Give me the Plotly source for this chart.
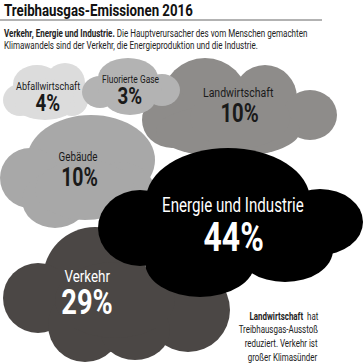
import plotly.graph_objects as go

# ---- data ----
categories = ["Abfallwirtschaft", "Fluorierte Gase", "Landwirtschaft", "Gebäude",
              "Energie und Industrie", "Verkehr"]
values = [4, 3, 10, 10, 44, 29]
title_text = "Treibhausgas-Emissionen 2016"
subtitle_bold = "Verkehr, Energie und Industrie."
subtitle_rest = [" Die Hauptverursacher des vom Menschen gemachten",
                 "Klimawandels sind der Verkehr, die Energieproduktion und die Industrie."]
note_lines = ["<b>Landwirtschaft</b>  hat", "Treibhausgas-Ausstoß",
              "reduziert. Verkehr ist", "großer Klimasünder"]

# ---- layout / style (pixel space) ----
W = H = 363
FONT = "Roboto, Liberation Sans, sans-serif"
CONDENSE = 0.78

# ellipses: (cx, cy, rx, ry)
clouds = {
    "Landwirtschaft": dict(color="#8e8c8a",
                           blobs=[(205, 100, 43, 42), (265, 98, 32, 33), (310, 115, 27, 25),
                                  (172, 120, 30, 28), (228, 131, 72, 26), (240, 118, 50, 30)],
                           label=(238, 92, 13.5), pct=(239, 113, 26), tcolor="#1a1a1a"),
    "Abfallwirtschaft": dict(color="#dcdcdc",
                             blobs=[(37, 84, 24, 19), (65, 83, 20, 20), (20, 100, 17, 16),
                                    (72, 100, 16, 16), (45, 105, 30, 15), (46, 95, 28, 16)],
                             label=(48, 86, 11.6), pct=(48, 103, 24), tcolor="#1a1a1a"),
    "Fluorierte Gase": dict(color="#b3b3b3",
                            blobs=[(128, 78, 30, 20), (100, 92, 18, 16), (162, 90, 18, 16),
                                   (130, 100, 25, 15), (130, 90, 32, 16)],
                            label=(130, 79, 10.8), pct=(130, 96, 24), tcolor="#1a1a1a"),
    "Gebäude": dict(color="#a8a8a8",
                    blobs=[(91, 160, 64, 45), (30, 178, 30, 30), (55, 200, 33, 28),
                           (120, 192, 35, 30), (85, 190, 50, 30)],
                    label=(78, 156, 12.6), pct=(79, 177, 25), tcolor="#1a1a1a"),
    "Verkehr": dict(color="#4b4745",
                    blobs=[(95, 279, 52, 52), (38, 298, 35, 35), (85, 325, 37, 37),
                           (188, 310, 42, 42), (135, 330, 35, 30), (115, 300, 60, 38)],
                    label=(87, 276, 17.2), pct=(87, 302, 35), tcolor="#ffffff"),
    "Energie und Industrie": dict(color="#000000",
                                  blobs=[(228, 200, 82, 52), (140, 228, 42, 38), (320, 222, 43, 33),
                                         (200, 262, 55, 35), (285, 250, 48, 32), (230, 232, 85, 42)],
                                  label=(233, 205, 19.4), pct=(233, 237, 41), tcolor="#ffffff"),
}
draw_order = ["Landwirtschaft", "Abfallwirtschaft", "Fluorierte Gase", "Gebäude",
              "Verkehr", "Energie und Industrie"]

fig = go.Figure()
fig.add_trace(go.Scatter(x=[0, W], y=[0, H], mode="markers", marker=dict(opacity=0),
                         hoverinfo="skip", showlegend=False))

shapes = []
annotations = []
for name in draw_order:
    c = clouds[name]
    for (cx, cy, rx, ry) in c["blobs"]:
        shapes.append(dict(type="circle", xref="x", yref="y", x0=cx - rx, x1=cx + rx,
                           y0=cy - ry, y1=cy + ry, fillcolor=c["color"], line=dict(width=0),
                           layer="below"))
    v = values[categories.index(name)]
    lx, ly, ls = c["label"]
    px, py, ps = c["pct"]
    annotations.append(dict(x=lx, y=ly, xref="x", yref="y", text=name, showarrow=False,
                            font=dict(family=FONT, size=ls, color=c["tcolor"]),
                            xanchor="center", yanchor="middle"))
    annotations.append(dict(x=px, y=py, xref="x", yref="y", text=f"<b>{v}%</b>", showarrow=False,
                            font=dict(family=FONT, size=ps, color=c["tcolor"]),
                            xanchor="center", yanchor="middle"))

# title, rule, subtitle
annotations.append(dict(x=2, y=10, xref="x", yref="y", text=f"<b>{title_text}</b>", showarrow=False,
                        font=dict(family=FONT, size=17, color="#111111"), align="left",
                        xanchor="left", yanchor="middle"))
shapes.append(dict(type="line", xref="x", yref="y", x0=0, x1=322, y0=20, y1=20,
                   line=dict(color="#666666", width=1)))
annotations.append(dict(x=2, y=33, xref="x", yref="y",
                        text=f"<b>{subtitle_bold}</b>{subtitle_rest[0]}", showarrow=False,
                        font=dict(family=FONT, size=10.3, color="#222222"), align="left",
                        xanchor="left", yanchor="middle"))
annotations.append(dict(x=2, y=45, xref="x", yref="y", text=subtitle_rest[1], showarrow=False,
                        font=dict(family=FONT, size=10.3, color="#222222"), align="left",
                        xanchor="left", yanchor="middle"))
for i, line in enumerate(note_lines):
    annotations.append(dict(x=320, y=316 + i * 13.7, xref="x", yref="y", text=line,
                            showarrow=False, font=dict(family=FONT, size=10.2, color="#222222"),
                            align="right", xanchor="right", yanchor="middle"))

fig.update_layout(
    width=W, height=H, margin=dict(l=0, r=0, t=0, b=0),
    paper_bgcolor="white", plot_bgcolor="white",
    xaxis=dict(range=[0, W], visible=False, fixedrange=True),
    yaxis=dict(range=[H, 0], visible=False, fixedrange=True),
    shapes=shapes, annotations=annotations, showlegend=False,
)

# page without default body margin; condensed look for the annotation texts
css = (
    "html,body{margin:0;padding:0;overflow:hidden;}"
    "text.annotation-text{transform-box:fill-box;transform:scaleX(%s);transform-origin:50%% 50%%;}"
    "text.annotation-text[text-anchor='start']{transform-origin:0%% 50%%;}"
    "text.annotation-text[text-anchor='end']{transform-origin:100%% 50%%;}" % CONDENSE
)
post = ("var st=document.createElement('style');st.textContent=%r;document.head.appendChild(st);" % css)
fig.write_html("out.html", post_script=post, config={"displayModeBar": False})
